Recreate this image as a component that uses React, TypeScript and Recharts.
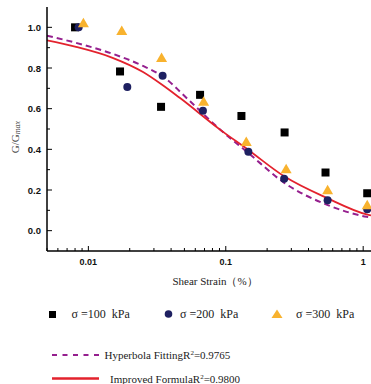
import React from 'react';
import { ComposedChart, Line, Scatter, XAxis, YAxis } from 'recharts';

// measured points, G/Gmax vs shear strain (%)
const strain100 = [0.008, 0.017, 0.0338, 0.065, 0.13, 0.268, 0.532, 1.07];
const ratio100 = [1.0, 0.783, 0.609, 0.668, 0.564, 0.483, 0.286, 0.184];
const strain200 = [0.0085, 0.0192, 0.0347, 0.0682, 0.146, 0.266, 0.551, 1.07];
const ratio200 = [1.0, 0.707, 0.762, 0.59, 0.388, 0.255, 0.15, 0.105];
const strain300 = [0.0092, 0.0175, 0.0341, 0.069, 0.141, 0.275, 0.551, 1.07];
const ratio300 = [1.018, 0.98, 0.847, 0.631, 0.434, 0.3, 0.196, 0.122];

// fitted curves
const hyperStrain = [0.005, 0.008, 0.015, 0.025, 0.034, 0.055, 0.09, 0.146, 0.268, 0.547, 1.06, 1.14];
const hyperRatio = [0.959, 0.925, 0.87, 0.81, 0.763, 0.636, 0.5, 0.382, 0.234, 0.127, 0.068, 0.064];
const improvedStrain = [0.005, 0.008, 0.015, 0.025, 0.034, 0.0465, 0.0908, 0.146, 0.268, 0.547, 1.06, 1.14];
const improvedRatio = [0.936, 0.905, 0.85, 0.78, 0.72, 0.652, 0.497, 0.397, 0.266, 0.16, 0.08, 0.075];

const xTicks = [
  0.005, 0.006, 0.007, 0.008, 0.009, 0.01,
  0.02, 0.03, 0.04, 0.05, 0.06, 0.07, 0.08, 0.09, 0.1,
  0.2, 0.3, 0.4, 0.5, 0.6, 0.7, 0.8, 0.9, 1,
];
const xLabels = [0.01, 0.1, 1];
const yTicks = [0, 0.1, 0.2, 0.3, 0.4, 0.5, 0.6, 0.7, 0.8, 0.9, 1.0];
const yLabels = [0, 0.2, 0.4, 0.6, 0.8, 1.0];

const legendLabels = ['σ =100  kPa', 'σ =200  kPa', 'σ =300  kPa'];
const fitLabels = ['Hyperbola Fitting', 'Improved Formula'];
const fitR2 = ['0.9765', '0.9800'];

const zip = (xs: number[], ys: number[]) => xs.map((x, i) => ({ x, y: ys[i] }));

const BLACK = '#000000';
const NAVY = '#1e2061';
const ORANGE = '#f8b22e';
const PURPLE = '#951f8e';
const RED = '#e3222d';
const tickFont = '"Liberation Sans", Arial, sans-serif';
const serif = '"Liberation Serif", "Times New Roman", serif';

const XTick = (props: any) => {
  const { x, y, payload } = props;
  const major = xLabels.includes(payload.value);
  return (
    <g>
      <line x1={x} x2={x} y1={y} y2={y - (major ? 5 : 3)} stroke="#000" strokeWidth={1} />
      {major && (
        <text x={x} y={y + 14} textAnchor="middle" fontSize={9} fontWeight="bold" fontFamily={tickFont} fill="#111">
          {String(payload.value)}
        </text>
      )}
    </g>
  );
};

const YTick = (props: any) => {
  const { x, y, payload } = props;
  const major = yLabels.some((v) => Math.abs(v - payload.value) < 1e-6);
  return (
    <g>
      <line x1={x} x2={x + (major ? 5 : 3)} y1={y} y2={y} stroke="#000" strokeWidth={1} />
      {major && (
        <text x={x - 6} y={y} dy={3.5} textAnchor="end" fontSize={9.5} fontWeight="bold" fontFamily={tickFont} fill="#111">
          {payload.value.toFixed(1)}
        </text>
      )}
    </g>
  );
};

const Square = (p: any) => <rect x={p.cx - 4} y={p.cy - 4} width={8} height={8} fill={BLACK} />;
const Dot = (p: any) => <circle cx={p.cx} cy={p.cy} r={4} fill={NAVY} />;
const Tri = (p: any) => (
  <polygon points={`${p.cx},${p.cy - 6} ${p.cx + 5.5},${p.cy + 3.5} ${p.cx - 5.5},${p.cy + 3.5}`} fill={ORANGE} />
);

export default function App() {
  return (
    <div style={{ position: 'absolute', left: 0, top: 0, width: 371, height: 384, background: '#fff' }}>
      <ComposedChart width={371} height={384} margin={{ top: 7, right: 0, bottom: 113, left: 0 }}>
        <XAxis
          type="number"
          dataKey="x"
          scale="log"
          domain={[0.005, 1.14]}
          allowDataOverflow
          ticks={xTicks}
          interval={0}
          tick={<XTick />}
          tickLine={false}
          tickSize={0}
          tickMargin={0}
          height={20}
          axisLine={{ stroke: '#000', strokeWidth: 1.5 }}
        />
        <YAxis
          type="number"
          dataKey="y"
          domain={[-0.1, 1.1]}
          allowDataOverflow
          ticks={yTicks}
          interval={0}
          tick={<YTick />}
          tickLine={false}
          tickSize={0}
          tickMargin={0}
          width={47}
          axisLine={{ stroke: '#000', strokeWidth: 1.5 }}
        />
        <Line
          data={zip(hyperStrain, hyperRatio)}
          dataKey="y"
          type="monotone"
          stroke={PURPLE}
          strokeWidth={2}
          strokeDasharray="6 4"
          dot={false}
          isAnimationActive={false}
        />
        <Line
          data={zip(improvedStrain, improvedRatio)}
          dataKey="y"
          type="monotone"
          stroke={RED}
          strokeWidth={1.8}
          dot={false}
          isAnimationActive={false}
        />
        <Scatter data={zip(strain100, ratio100)} shape={Square} isAnimationActive={false} />
        <Scatter data={zip(strain200, ratio200)} shape={Dot} isAnimationActive={false} />
        <Scatter data={zip(strain300, ratio300)} shape={Tri} isAnimationActive={false} />
      </ComposedChart>
      <svg width={371} height={384} style={{ position: 'absolute', left: 0, top: 0, pointerEvents: 'none' }}>
        <text
          x={15}
          y={137}
          transform="rotate(-90, 15, 137)"
          textAnchor="middle"
          dominantBaseline="central"
          fontFamily={serif}
          fontSize={11}
          fill="#444"
        >
          G/G<tspan fontSize={8} fontStyle="italic" dy={2}>max</tspan>
        </text>
        <text x={215} y={285} textAnchor="middle" fontFamily={serif} fontSize={11} fill="#222">
          Shear Strain（%）
        </text>
        <rect x={49} y={311} width={7} height={7} fill={BLACK} />
        <text x={71.5} y={318} fontFamily={serif} fontSize={12} fill="#222" style={{ whiteSpace: 'pre' }}>
          {legendLabels[0]}
        </text>
        <circle cx={168.5} cy={314} r={3.8} fill={NAVY} />
        <text x={180} y={318} fontFamily={serif} fontSize={12} fill="#222" style={{ whiteSpace: 'pre' }}>
          {legendLabels[1]}
        </text>
        <polygon points="277,309.5 282.5,318 271.5,318" fill={ORANGE} />
        <text x={296} y={318} fontFamily={serif} fontSize={12} fill="#222" style={{ whiteSpace: 'pre' }}>
          {legendLabels[2]}
        </text>
        <line x1={52} x2={99} y1={355} y2={355} stroke={PURPLE} strokeWidth={2.2} strokeDasharray="5 5.5" />
        <text x={104.5} y={359} fontFamily={serif} fontSize={11} fill="#222">
          {fitLabels[0]}R<tspan fontSize={7} dy={-4}>2</tspan><tspan dy={4}>={fitR2[0]}</tspan>
        </text>
        <line x1={52} x2={99} y1={378.5} y2={378.5} stroke={RED} strokeWidth={2.5} />
        <text x={110} y={383} fontFamily={serif} fontSize={11} fill="#222">
          {fitLabels[1]}R<tspan fontSize={7} dy={-4}>2</tspan><tspan dy={4}>={fitR2[1]}</tspan>
        </text>
      </svg>
    </div>
  );
}
